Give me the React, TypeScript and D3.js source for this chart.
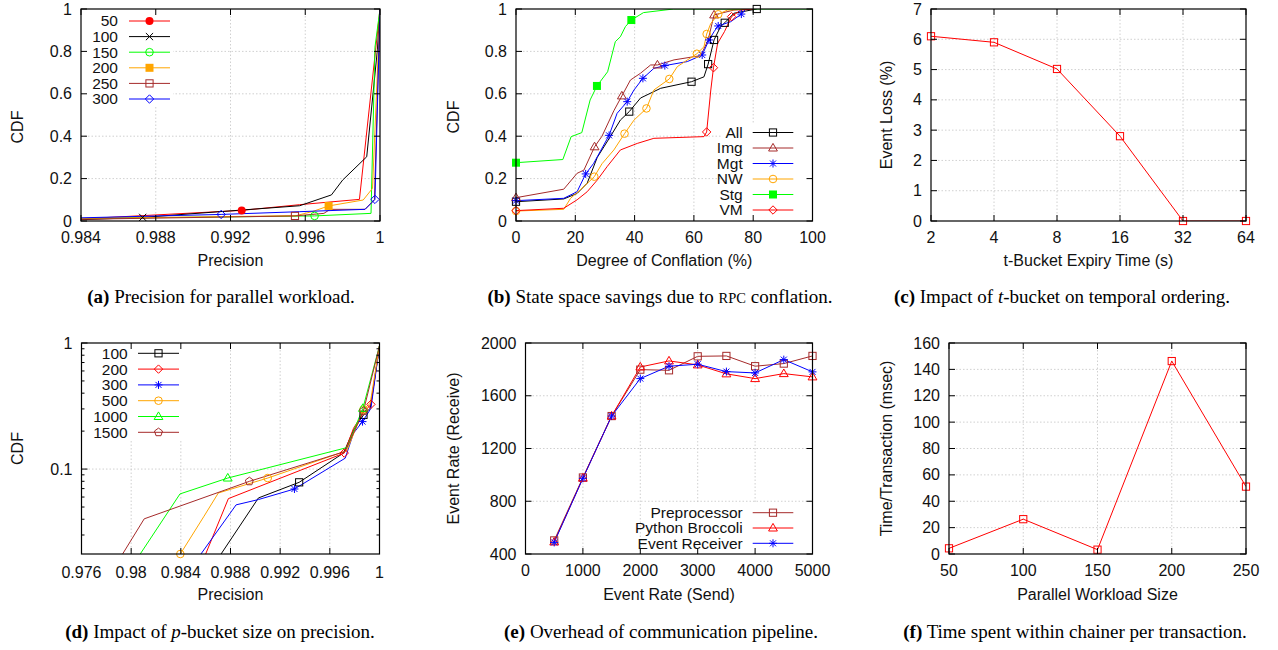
import React from "react";
import * as d3 from "d3";

type Pt = [number, number];

const SANS = "'Liberation Sans', Arial, Helvetica, sans-serif";
const SERIF = "'Liberation Serif', 'Times New Roman', serif";

const RED = "#ff0000";
const BLACK = "#000000";
const GREEN = "#00ff00";
const ORANGE = "#ffa500";
const BROWN = "#a52a2a";
const BLUE = "#0000ff";

// ---- (a) precision for parallel workload (CDF)
const aXTicks = [0.984, 0.988, 0.992, 0.996, 1];
const aYTicks = [0, 0.2, 0.4, 0.6, 0.8, 1];
const a50: Pt[] = [[0.984, 0.01], [0.9926, 0.05], [0.9957, 0.077], [0.9989, 0.102], [1, 1]];
const a100: Pt[] = [[0.984, 0.006], [0.9873, 0.017], [0.9957, 0.072], [0.9974, 0.123], [0.998, 0.193], [0.99929, 0.303], [0.99986, 0.807], [1, 1]];
const a150: Pt[] = [[0.984, 0.012], [0.9965, 0.024], [0.99952, 0.036], [0.99973, 0.82], [1, 1]];
const a200: Pt[] = [[0.984, 0.012], [0.9955, 0.025], [0.9964, 0.045], [0.99725, 0.071], [0.9991, 0.099], [0.9996, 0.154], [1, 1]];
const a250: Pt[] = [[0.984, 0.008], [0.99545, 0.024], [0.997, 0.036], [0.99733, 0.055], [0.9992, 0.055], [0.9997, 0.1], [1, 1]];
const a300: Pt[] = [[0.984, 0.015], [0.9915, 0.031], [0.9957, 0.044], [0.9992, 0.055], [0.99973, 0.102], [1, 1]];

// ---- (b) degree of conflation (CDF)
const bXTicks = [0, 20, 40, 60, 80, 100];
const bYTicks = [0, 0.2, 0.4, 0.6, 0.8, 1];
const bAll: Pt[] = [[0, 0.091], [16.1, 0.104], [20.6, 0.13], [24, 0.178], [27.4, 0.3], [31.9, 0.4], [35.2, 0.476], [38.2, 0.516], [42, 0.58], [48.8, 0.626], [59.2, 0.657], [63.4, 0.68], [64.8, 0.74], [66.8, 0.854], [69, 0.917], [70.4, 0.935], [73.5, 0.98], [81.2, 1]];
const bImg: Pt[] = [[0, 0.11], [16.1, 0.15], [20.6, 0.225], [22.9, 0.24], [26.5, 0.35], [29, 0.4], [33, 0.52], [35.7, 0.59], [38.6, 0.665], [42, 0.697], [45.4, 0.736], [47.7, 0.736], [53.3, 0.76], [62.3, 0.78], [64.8, 0.854], [66.8, 0.972], [73.5, 0.995], [80.3, 1]];
const bMgt: Pt[] = [[0, 0.096], [16.1, 0.107], [20.6, 0.138], [23.5, 0.222], [26.2, 0.272], [31.4, 0.404], [34.1, 0.508], [37.5, 0.563], [39.8, 0.618], [42.8, 0.673], [46.5, 0.72], [50.2, 0.733], [57.8, 0.752], [62.8, 0.783], [65.1, 0.854], [66.8, 0.893], [68.2, 0.92], [72.4, 0.94], [76, 0.976], [77.5, 1]];
const bNW: Pt[] = [[0, 0.047], [16.1, 0.055], [18.4, 0.107], [22.9, 0.162], [26.4, 0.209], [29, 0.27], [33, 0.335], [36.6, 0.412], [39.8, 0.476], [44, 0.531], [46.5, 0.618], [51.7, 0.67], [54.4, 0.728], [61, 0.789], [63.4, 0.822], [64.3, 0.882], [65.7, 0.932], [68.2, 0.975], [71.3, 0.995], [79.2, 1]];
const bStg: Pt[] = [[0, 0.275], [15.8, 0.29], [18.6, 0.398], [22.2, 0.417], [25, 0.571], [27.3, 0.637], [30.9, 0.704], [33.5, 0.846], [35.2, 0.869], [36.9, 0.917], [38.9, 0.948], [43, 0.983], [53.1, 1], [100, 1]];
const bVM: Pt[] = [[0, 0.049], [16.1, 0.06], [20.6, 0.1], [24, 0.138], [27.4, 0.193], [30.7, 0.256], [35.2, 0.335], [40.9, 0.366], [46.5, 0.39], [63.4, 0.398], [64.3, 0.42], [65.7, 0.618], [66.6, 0.723], [68, 0.838], [70.3, 0.893], [72.7, 0.964], [75.8, 0.995], [80.3, 1]];

// ---- (c) t-bucket expiry
const cXTicks = [2, 4, 8, 16, 32, 64];
const cYTicks = [0, 1, 2, 3, 4, 5, 6, 7];
const cLoss = [6.1, 5.9, 5.02, 2.8, 0, 0];

// ---- (d) p-bucket size (log CDF)
const dXTicks = [0.976, 0.98, 0.984, 0.988, 0.992, 0.996, 1];
const dYTicks = [0.1, 1];
const dYMinor = [0.03, 0.04, 0.05, 0.06, 0.07, 0.08, 0.09, 0.2, 0.3, 0.4, 0.5, 0.6, 0.7, 0.8, 0.9];
const d100: Pt[] = [[0.98724, 0.0212], [0.99025, 0.059], [0.99353, 0.0785], [0.9971, 0.134], [0.99791, 0.204], [0.99871, 0.269], [0.99925, 0.303], [1, 0.95]];
const d200: Pt[] = [[0.986, 0.0212], [0.98783, 0.0583], [0.99716, 0.134], [0.99791, 0.211], [0.99871, 0.28], [0.99931, 0.326], [1, 0.95]];
const d300: Pt[] = [[0.98562, 0.0212], [0.98845, 0.052], [0.99025, 0.0573], [0.99315, 0.0695], [0.99724, 0.122], [0.9979, 0.192], [0.99863, 0.238], [0.99931, 0.303], [1, 0.95]];
const d500: Pt[] = [[0.98396, 0.0212], [0.98587, 0.0423], [0.98702, 0.0646], [0.991, 0.0849], [0.99737, 0.14], [0.99871, 0.297], [0.99925, 0.332], [1, 0.95]];
const d1000: Pt[] = [[0.98073, 0.0212], [0.98393, 0.0635], [0.98778, 0.0849], [0.99737, 0.148], [0.99866, 0.303], [1, 0.95]];
const d1500: Pt[] = [[0.97931, 0.0212], [0.98105, 0.0403], [0.98952, 0.0799], [0.99724, 0.138], [0.99871, 0.289], [1, 0.95]];

// ---- (e) communication pipeline
const eXTicks = [0, 1000, 2000, 3000, 4000, 5000];
const eYTicks = [400, 800, 1200, 1600, 2000];
const eSend = [500, 1000, 1500, 2000, 2500, 3000, 3500, 4000, 4500, 5000];
const ePre = [503, 980, 1446, 1798, 1793, 1899, 1902, 1824, 1844, 1902];
const eBro = [491, 975, 1446, 1818, 1864, 1834, 1766, 1730, 1768, 1743];
const eRec = [488, 974, 1446, 1730, 1824, 1839, 1783, 1773, 1874, 1781];

// ---- (f) time per transaction
const fXTicks = [50, 100, 150, 200, 250];
const fYTicks = [0, 20, 40, 60, 80, 100, 120, 140, 160];
const fTime = [4.3, 26.4, 3.3, 146.3, 51.1];

const zip = (xs: number[], ys: number[]): Pt[] => xs.map((v, i) => [v, ys[i]]);

const FS = 16; // tick + axis titles
const LFS = 15.5; // legend

function Marker({ kind, x, y, color }: { kind: string; x: number; y: number; color: string }) {
  const sw = 1;
  switch (kind) {
    case "circleF":
      return <circle cx={x} cy={y} r={4} fill={color} />;
    case "circle":
      return <circle cx={x} cy={y} r={3.8} fill="none" stroke={color} strokeWidth={sw} />;
    case "cross":
      return (
        <g stroke={color} strokeWidth={sw}>
          <line x1={x - 3.6} y1={y - 3.6} x2={x + 3.6} y2={y + 3.6} />
          <line x1={x - 3.6} y1={y + 3.6} x2={x + 3.6} y2={y - 3.6} />
        </g>
      );
    case "squareF":
      return <rect x={x - 4} y={y - 4} width={8} height={8} fill={color} />;
    case "square":
      return <rect x={x - 3.6} y={y - 3.6} width={7.2} height={7.2} fill="none" stroke={color} strokeWidth={sw} />;
    case "diamond":
      return <polygon points={`${x},${y - 4.2} ${x + 4.2},${y} ${x},${y + 4.2} ${x - 4.2},${y}`} fill="none" stroke={color} strokeWidth={sw} />;
    case "star":
      return (
        <g stroke={color} strokeWidth={sw}>
          <line x1={x - 4} y1={y} x2={x + 4} y2={y} />
          <line x1={x} y1={y - 4} x2={x} y2={y + 4} />
          <line x1={x - 3} y1={y - 3} x2={x + 3} y2={y + 3} />
          <line x1={x - 3} y1={y + 3} x2={x + 3} y2={y - 3} />
        </g>
      );
    case "triangle":
      return <polygon points={`${x},${y - 4.6} ${x + 4.4},${y + 3} ${x - 4.4},${y + 3}`} fill="none" stroke={color} strokeWidth={sw} />;
    case "pentagon": {
      const pts = d3.range(5).map(i => {
        const a = -Math.PI / 2 + (i * 2 * Math.PI) / 5;
        return `${x + 4.2 * Math.cos(a)},${y + 4.2 * Math.sin(a)}`;
      });
      return <polygon points={pts.join(" ")} fill="none" stroke={color} strokeWidth={sw} />;
    }
    default:
      return null;
  }
}

type Series = { name: string; data: Pt[]; color: string; marker: string; marks: number[] };
type Legend = { right: number; x0: number; x1: number; y0: number; dy: number; box: [number, number, number, number] };

function Panel(p: {
  id: string;
  x: any;
  y: any;
  xTicks: number[];
  yTicks: number[];
  yMinor?: number[];
  xTitle: string;
  yTitle: string;
  yTitleX: number;
  yTitleY?: number;
  series: Series[];
  legend?: Legend;
  xLabelDy?: number;
  xTitleDy?: number;
}) {
  const { id, x, y, xTicks, yTicks, yMinor = [], xTitle, yTitle, yTitleX, series, legend } = p;
  const [l, r] = x.range();
  const [b, t] = y.range();
  const xLabelDy = p.xLabelDy ?? 21.5;
  const xTitleDy = p.xTitleDy ?? 45;
  const yTitleY = p.yTitleY ?? (t + b) / 2;
  const line = d3.line<Pt>().x(d => x(d[0])).y(d => y(d[1]));
  const grid = { stroke: "#c4c4c4", strokeWidth: 0.8, strokeDasharray: "1.5,2" };
  const tk = 6;
  const mk = 3;
  return (
    <g>
      <defs>
        <clipPath id={id}>
          <rect x={l} y={t} width={r - l} height={b - t} />
        </clipPath>
      </defs>
      {xTicks.filter(v => x(v) > l + 1 && x(v) < r - 1).map(v => (
        <line key={"gx" + v} x1={x(v)} x2={x(v)} y1={t} y2={b} {...grid} />
      ))}
      {yTicks.filter(v => y(v) > t + 1 && y(v) < b - 1).map(v => (
        <line key={"gy" + v} x1={l} x2={r} y1={y(v)} y2={y(v)} {...grid} />
      ))}
      {legend && (
        <rect x={legend.box[0]} y={legend.box[1]} width={legend.box[2] - legend.box[0]} height={legend.box[3] - legend.box[1]} fill="#fff" />
      )}
      <g clipPath={`url(#${id})`}>
        {series.map(s => (
          <path key={s.name} d={line(s.data) ?? ""} fill="none" stroke={s.color} strokeWidth={1} strokeLinejoin="round" />
        ))}
      </g>
      {series.map(s =>
        s.marks.map(i => <Marker key={s.name + i} kind={s.marker} x={x(s.data[i][0])} y={y(s.data[i][1])} color={s.color} />)
      )}
      <rect x={l} y={t} width={r - l} height={b - t} fill="none" stroke="#000" strokeWidth={1.2} />
      {xTicks.map(v => (
        <g key={"tx" + v}>
          <line x1={x(v)} x2={x(v)} y1={b} y2={b - tk} stroke="#000" />
          <line x1={x(v)} x2={x(v)} y1={t} y2={t + tk} stroke="#000" />
          <text x={x(v)} y={b + xLabelDy} textAnchor="middle" fontSize={FS} fill="#111">{String(v)}</text>
        </g>
      ))}
      {yTicks.map(v => (
        <g key={"ty" + v}>
          <line x1={l} x2={l + tk} y1={y(v)} y2={y(v)} stroke="#000" />
          <line x1={r} x2={r - tk} y1={y(v)} y2={y(v)} stroke="#000" />
          <text x={l - 9} y={y(v)} dy="0.35em" textAnchor="end" fontSize={FS} fill="#111">{String(v)}</text>
        </g>
      ))}
      {yMinor.map(v => (
        <g key={"my" + v}>
          <line x1={l} x2={l + mk} y1={y(v)} y2={y(v)} stroke="#000" />
          <line x1={r} x2={r - mk} y1={y(v)} y2={y(v)} stroke="#000" />
        </g>
      ))}
      <text x={(l + r) / 2} y={b + xTitleDy} textAnchor="middle" fontSize={FS} fill="#111">{xTitle}</text>
      <text transform={`translate(${yTitleX},${yTitleY}) rotate(-90)`} dy="0.35em" textAnchor="middle" fontSize={FS} fill="#111">{yTitle}</text>
      {legend &&
        series.map((s, i) => {
          const yy = legend.y0 + i * legend.dy;
          return (
            <g key={"lg" + s.name}>
              <text x={legend.right} y={yy} dy="0.35em" textAnchor="end" fontSize={LFS} fill="#111">{s.name}</text>
              <line x1={legend.x0} x2={legend.x1} y1={yy} y2={yy} stroke={s.color} strokeWidth={1} />
              <Marker kind={s.marker} x={(legend.x0 + legend.x1) / 2} y={yy} color={s.color} />
            </g>
          );
        })}
    </g>
  );
}

function Caption({ x, y, children }: { x: number; y: number; children: React.ReactNode }) {
  return (
    <text x={x} y={y} textAnchor="middle" fontFamily={SERIF} fontSize={19} fill="#000">
      {children}
    </text>
  );
}

export default function App() {
  const W = 1278;
  const H = 650;

  const ax = d3.scaleLinear().domain([0.984, 1]).range([81, 380]);
  const ay = d3.scaleLinear().domain([0, 1]).range([221, 9]);
  const bx = d3.scaleLinear().domain([0, 100]).range([516, 812.5]);
  const by = d3.scaleLinear().domain([0, 1]).range([221, 9]);
  const cx = d3.scaleLog().base(2).domain([2, 64]).range([931, 1246]);
  const cy = d3.scaleLinear().domain([0, 7]).range([221, 9]);
  const dx = d3.scaleLinear().domain([0.976, 1]).range([81.5, 379.5]);
  const dy = d3.scaleLog().domain([0.0212, 1]).range([554, 343]);
  const ex = d3.scaleLinear().domain([0, 5000]).range([525.5, 812.5]);
  const ey = d3.scaleLinear().domain([400, 2000]).range([554, 343]);
  const fx = d3.scaleLinear().domain([50, 250]).range([949, 1246]);
  const fy = d3.scaleLinear().domain([0, 160]).range([554, 343]);

  const aSeries: Series[] = [
    { name: "50", data: a50, color: RED, marker: "circleF", marks: [1] },
    { name: "100", data: a100, color: BLACK, marker: "cross", marks: [1] },
    { name: "150", data: a150, color: GREEN, marker: "circle", marks: [1] },
    { name: "200", data: a200, color: ORANGE, marker: "squareF", marks: [3] },
    { name: "250", data: a250, color: BROWN, marker: "square", marks: [1] },
    { name: "300", data: a300, color: BLUE, marker: "diamond", marks: [1, 4] },
  ];
  const bSeries: Series[] = [
    { name: "All", data: bAll, color: BLACK, marker: "square", marks: [0, 7, 10, 12, 13, 15, 17] },
    { name: "Img", data: bImg, color: BROWN, marker: "triangle", marks: [0, 4, 7, 11, 15] },
    { name: "Mgt", data: bMgt, color: BLUE, marker: "star", marks: [0, 3, 5, 7, 9, 11, 13, 14, 16, 18] },
    { name: "NW", data: bNW, color: ORANGE, marker: "circle", marks: [0, 4, 7, 9, 11, 13, 15, 17] },
    { name: "Stg", data: bStg, color: GREEN, marker: "squareF", marks: [0, 5, 10] },
    { name: "VM", data: bVM, color: RED, marker: "diamond", marks: [0, 10, 12, 15] },
  ];
  const cSeries: Series[] = [
    { name: "loss", data: zip(cXTicks, cLoss), color: RED, marker: "square", marks: [0, 1, 2, 3, 4, 5] },
  ];
  const dSeries: Series[] = [
    { name: "100", data: d100, color: BLACK, marker: "square", marks: [2, 5] },
    { name: "200", data: d200, color: RED, marker: "diamond", marks: [2, 5] },
    { name: "300", data: d300, color: BLUE, marker: "star", marks: [3, 6] },
    { name: "500", data: d500, color: ORANGE, marker: "circle", marks: [0, 3, 5] },
    { name: "1000", data: d1000, color: GREEN, marker: "triangle", marks: [2, 4] },
    { name: "1500", data: d1500, color: BROWN, marker: "pentagon", marks: [2, 4] },
  ];
  const all = eSend.map((_, i) => i);
  const eSeries: Series[] = [
    { name: "Preprocessor", data: zip(eSend, ePre), color: BROWN, marker: "square", marks: all },
    { name: "Python Broccoli", data: zip(eSend, eBro), color: RED, marker: "triangle", marks: all },
    { name: "Event Receiver", data: zip(eSend, eRec), color: BLUE, marker: "star", marks: all },
  ];
  const fSeries: Series[] = [
    { name: "time", data: zip(fXTicks, fTime), color: RED, marker: "square", marks: [0, 1, 2, 3, 4] },
  ];

  return (
    <svg width={W} height={H} style={{ position: "absolute", left: 0, top: 0 }} fontFamily={SANS}>
      <rect width={W} height={H} fill="#fff" />
      <Panel id="pa" x={ax} y={ay} xTicks={aXTicks} yTicks={aYTicks} xTitle="Precision" yTitle="CDF" yTitleX={17} yTitleY={127}
        series={aSeries} legend={{ right: 118, x0: 129, x1: 170, y0: 21, dy: 15.6, box: [82, 10, 173, 107] }} />
      <Panel id="pb" x={bx} y={by} xTicks={bXTicks} yTicks={bYTicks} xTitle="Degree of Conflation (%)" yTitle="CDF" yTitleX={453} yTitleY={117}
        series={bSeries} legend={{ right: 742.7, x0: 752.7, x1: 793.3, y0: 132.5, dy: 15.5, box: [721, 123, 811, 220] }} />
      <Panel id="pc" x={cx} y={cy} xTicks={cXTicks} yTicks={cYTicks} xTitle="t-Bucket Expiry Time (s)" yTitle="Event Loss (%)" yTitleX={886}
        series={cSeries} />
      <Panel id="pd" x={dx} y={dy} xTicks={dXTicks} yTicks={dYTicks} yMinor={dYMinor} xTitle="Precision" yTitle="CDF" yTitleX={17}
        series={dSeries} legend={{ right: 127.7, x0: 138, x1: 179, y0: 353.3, dy: 15.8, box: [82.5, 344, 182, 440] }} xLabelDy={24} xTitleDy={46} />
      <Panel id="pe" x={ex} y={ey} xTicks={eXTicks} yTicks={eYTicks} xTitle="Event Rate (Send)" yTitle="Event Rate (Receive)" yTitleX={453}
        series={eSeries} legend={{ right: 742.7, x0: 752.7, x1: 793.3, y0: 512.7, dy: 15.3, box: [647, 503, 811, 553] }} xLabelDy={22} xTitleDy={46} />
      <Panel id="pf" x={fx} y={fy} xTicks={fXTicks} yTicks={fYTicks} xTitle="Parallel Workload Size" yTitle="Time/Transaction (msec)" yTitleX={886}
        series={fSeries} xLabelDy={22} xTitleDy={46} />

      <Caption x={221} y={303}>
        <tspan fontWeight="bold">(a)</tspan> Precision for parallel workload.
      </Caption>
      <Caption x={660} y={303}>
        <tspan fontWeight="bold">(b)</tspan> State space savings due to <tspan fontSize={14.5}>RPC</tspan> conflation.
      </Caption>
      <Caption x={1062} y={303}>
        <tspan fontWeight="bold">(c)</tspan> Impact of <tspan fontStyle="italic">t</tspan>-bucket on temporal ordering.
      </Caption>
      <Caption x={220} y={638}>
        <tspan fontWeight="bold">(d)</tspan> Impact of <tspan fontStyle="italic">p</tspan>-bucket size on precision.
      </Caption>
      <Caption x={661} y={638}>
        <tspan fontWeight="bold">(e)</tspan> Overhead of communication pipeline.
      </Caption>
      <Caption x={1075} y={638}>
        <tspan fontWeight="bold">(f)</tspan> Time spent within chainer per transaction.
      </Caption>
    </svg>
  );
}
